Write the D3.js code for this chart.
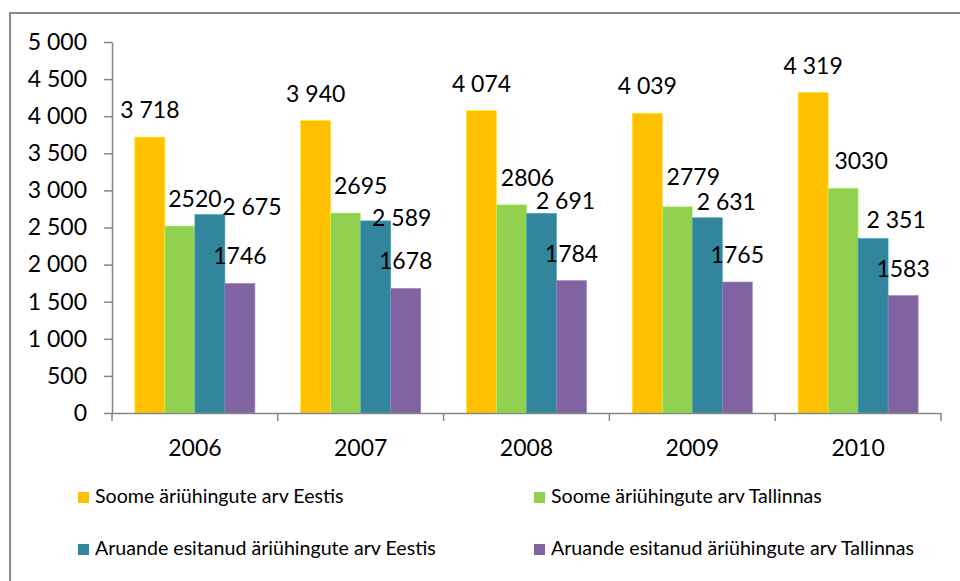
<!DOCTYPE html>
<html>
<head>
<meta charset="utf-8">
<script src="https://cdn.jsdelivr.net/npm/d3@7"></script>
<style>
  html, body { margin: 0; padding: 0; background: #fff; }
  svg { display: block; font-family: Lato, "Open Sans", sans-serif; }
</style>
</head>
<body>
<svg id="chart" width="960" height="581"></svg>
<script>
// ---- data ----
const years = ["2006", "2007", "2008", "2009", "2010"];
const seriesNames = [
  "Soome äriühingute arv Eestis",
  "Soome äriühingute arv Tallinnas",
  "Aruande esitanud äriühingute arv Eestis",
  "Aruande esitanud äriühingute arv Tallinnas"
];
const finEstonia = [3718, 3940, 4074, 4039, 4319];
const finTallinn = [2520, 2695, 2806, 2779, 3030];
const repEstonia = [2675, 2589, 2691, 2631, 2351];
const repTallinn = [1746, 1678, 1784, 1765, 1583];
const yTicks = [0, 500, 1000, 1500, 2000, 2500, 3000, 3500, 4000, 4500, 5000];

// ---- style / layout ----
const colors = ["#FFC000", "#92D050", "#31859C", "#8064A2"];
const groupedLabels = [true, false, true, false]; // thousands separator in data label
const seriesValues = [finEstonia, finTallinn, repEstonia, repTallinn];
// manual data-label nudges (as placed in the original) [dx, dy] per series/year
const labelNudge = [
  [[0,0],[0,0],[0,0],[0,0],[0,0]],
  [[15,0],[15,0],[16,0],[16,-3],[18,0]],
  [[42,19],[26,24],[24,15],[19,11],[23,8]],
  [[0,0],[0,0],[0,0],[0,0],[0,0]]
];

const svg = d3.select("#chart");
const mLeft = 112, mRight = 941, mTop = 42, mBottom = 413;
const fontSize = 23;

const loc = d3.formatLocale({ decimal: ",", thousands: "\u00a0", grouping: [3], currency: ["", ""] });
const fmtSpace = loc.format(",d");
const fmtPlain = d3.format("d");

// border
svg.append("rect")
  .attr("x", 10).attr("y", 13).attr("width", 1000).attr("height", 700)
  .attr("fill", "none").attr("stroke", "#8c8c8c").attr("stroke-width", 2);

const x0 = d3.scaleBand().domain(years).range([mLeft, mRight]).padding(0);
const barW = 30;
const x1 = d3.scaleBand().domain(d3.range(4)).range([0, barW * 4]).padding(0);
const groupOffset = (x0.bandwidth() - barW * 4) / 2;
const y = d3.scaleLinear().domain([0, 5000]).range([mBottom, mTop]);

// bars
const g = svg.append("g");
years.forEach((yr, i) => {
  seriesValues.forEach((vals, s) => {
    const bx = x0(yr) + groupOffset + x1(s);
    g.append("rect")
      .attr("x", bx).attr("y", y(vals[i]))
      .attr("width", x1.bandwidth()).attr("height", y(0) - y(vals[i]))
      .attr("fill", colors[s])
      .attr("stroke", d3.color(colors[s]).brighter(0.6)).attr("stroke-width", 0.6);
  });
});

// data labels
years.forEach((yr, i) => {
  seriesValues.forEach((vals, s) => {
    const cx = x0(yr) + groupOffset + x1(s) + x1.bandwidth() / 2;
    const [dx, dy] = labelNudge[s][i];
    svg.append("text")
      .attr("x", cx + dx).attr("y", y(vals[i]) - 19 + dy)
      .attr("text-anchor", "middle")
      .attr("font-size", fontSize).attr("fill", "#000")
      .text(groupedLabels[s] ? fmtSpace(vals[i]) : fmtPlain(vals[i]));
  });
});

// y axis
const yAxis = d3.axisLeft(y).tickValues(yTicks).tickSize(8).tickSizeOuter(0).tickPadding(17)
  .tickFormat(d => fmtSpace(d));
const ya = svg.append("g").attr("transform", `translate(${mLeft},0)`).call(yAxis);
ya.select(".domain").attr("stroke", "#868686").attr("stroke-width", 1.5);
ya.selectAll(".tick line").attr("stroke", "#868686").attr("stroke-width", 1.5);
ya.selectAll(".tick text").attr("font-size", fontSize).attr("font-family", "Lato, sans-serif").attr("fill", "#000");

// x axis
const xAxis = d3.axisBottom(x0).tickSize(0).tickSizeOuter(0).tickPadding(27);
const xa = svg.append("g").attr("transform", `translate(0,${mBottom})`).call(xAxis);
xa.select(".domain").attr("stroke", "#868686").attr("stroke-width", 1.5);
xa.selectAll(".tick text").attr("font-size", fontSize).attr("font-family", "Lato, sans-serif").attr("fill", "#000");
const bounds = years.map(yr => x0(yr)).concat([x0(years[years.length - 1]) + x0.bandwidth()]);
xa.selectAll(".bnd").data(bounds).enter().append("line")
  .attr("x1", d => d).attr("x2", d => d).attr("y1", 0).attr("y2", 8)
  .attr("stroke", "#868686").attr("stroke-width", 1.5);

// legend
const legPos = [[78, 492], [534, 492], [78, 544], [534, 544]];
seriesNames.forEach((name, s) => {
  const [lx, ly] = legPos[s];
  svg.append("rect").attr("x", lx).attr("y", ly).attr("width", 11).attr("height", 11).attr("fill", colors[s]);
  svg.append("text").attr("x", lx + 17).attr("y", ly + 11)
    .attr("font-size", 19.6).attr("fill", "#000").text(name);
});
</script>
</body>
</html>
